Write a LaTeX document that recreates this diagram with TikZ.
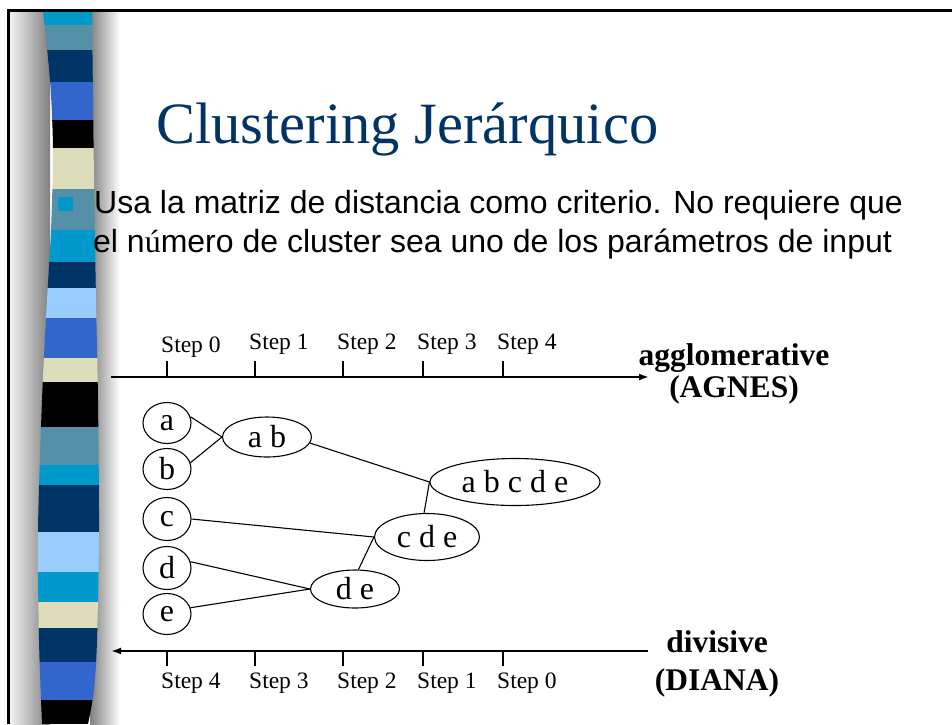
\documentclass[tikz,border=0pt]{standalone}
\usepackage{fontspec}
\setmainfont{Liberation Serif}
\setsansfont{Liberation Sans}
\usetikzlibrary{arrows.meta,shapes.geometric}

\definecolor{bandcyan}{RGB}{0,153,204}
\definecolor{bandsteel}{RGB}{85,143,168}
\definecolor{bandnavy}{RGB}{0,51,102}
\definecolor{bandroyal}{RGB}{51,102,204}
\definecolor{bandbeige}{RGB}{221,221,187}
\definecolor{bandlight}{RGB}{153,204,255}
\definecolor{titlenavy}{RGB}{0,51,102}

\tikzset{
  leaf/.style={draw, ellipse, line width=1.1pt, minimum width=48pt, minimum height=41pt,
    inner sep=0pt, font=\fontsize{32}{32}\selectfont},
  merged/.style={leaf},
  link/.style={line width=1.1pt},
  axis/.style={line width=1.8pt},
  tick/.style={line width=1.8pt},
  steplabel/.style={anchor=base west, inner sep=0pt, font=\fontsize{23.5}{23.5}\selectfont},
  sidelabel/.style={anchor=base, inner sep=0pt, font=\fontsize{31.5}{31.5}\selectfont\bfseries},
  bodytext/.style={anchor=base west, inner sep=0pt, font=\sffamily\fontsize{32}{32}\selectfont}
}

\begin{document}
\begin{tikzpicture}[x=1pt,y=-1pt]
\useasboundingbox (0,0) rectangle (952,724);
\fill[white] (0,0) rectangle (952,724);

% side bar: rounded shading behind the coloured bands
\shade[left color=black!4, right color=black!50] (9,11) rectangle (50,724);
\shade[left color=black!50, right color=white] (90,11) rectangle (120,724);

\begin{scope}
\clip plot[smooth] coordinates {(43,11) (50,80) (53,150) (51,230) (47,300) (42,400) (38,530) (39,640) (42,724)}
  -- plot[smooth] coordinates {(88,724) (94,690) (97,640) (99,530) (98,400) (96,300) (94,180) (92,11)} -- cycle;
\foreach \ya/\yb/\col in {
  11/25/bandcyan, 25/50/bandsteel, 50/82/bandnavy, 82/120/bandroyal,
  120/148/black, 148/189/bandbeige, 189/230/bandsteel, 230/262/bandcyan,
  262/288/bandnavy, 288/318/bandlight, 318/358/bandroyal, 358/382/bandbeige,
  382/427/black, 427/465/bandsteel, 465/485/bandcyan, 485/532/bandnavy,
  532/572/bandlight, 572/602/bandcyan, 602/628/bandbeige, 628/662/bandnavy,
  662/700/bandroyal, 700/724/black}
  \fill[\col] (30,\ya) rectangle (110,\yb);
\end{scope}

% frame
\draw[line width=2.6pt] (8.5,724) -- (8.5,10.5) -- (952,10.5);

% title
\node[anchor=base west, inner sep=0pt, text=titlenavy, font=\fontsize{58.5}{58.5}\selectfont]
  (title) at (156,143) {Clustering Jerárquico};

% bullet and body text
\fill[bandcyan] (58,197) rectangle (73,211);
\node[bodytext] (line1) at (94,213) {Usa la matriz de distancia como criterio. No requiere que};
\node[bodytext] (line2) at (93,252) {el n{\rmfamily ú}mero de cluster sea uno de los parámetros de input};

% agglomerative axis
\coordinate (aggstart) at (111,377);
\coordinate (aggend) at (649,377);
\draw[axis, -{Latex[length=10pt,width=7pt]}] (aggstart) -- (aggend);
\foreach \x/\lab/\yb in {167/0/352, 255/1/349, 343/2/349, 423/3/349, 503/4/349} {
  \draw[tick] (\x,361) -- (\x,377);
  \node[steplabel] (top\lab) at (\x-6,\yb) {Step \lab};
}
\node[sidelabel] (agg1) at (734,365) {agglomerative};
\node[sidelabel] (agg2) at (734,397) {(AGNES)};

% divisive axis
\coordinate (divstart) at (648,651);
\coordinate (divend) at (111,651);
\draw[axis, -{Latex[length=10pt,width=7pt]}] (divstart) -- (divend);
\foreach \x/\lab in {167/4, 255/3, 343/2, 423/1, 503/0} {
  \draw[tick] (\x,651) -- (\x,666);
  \node[steplabel] (bot\lab) at (\x-6,688) {Step \lab};
}
\node[sidelabel] (div1) at (717,652) {divisive};
\node[sidelabel] (div2) at (717,690) {(DIANA)};

% objects and clusters
\node[leaf] (a) at (167,423) {a};
\node[leaf] (b) at (167,469) {b};
\node[leaf, minimum height=43pt] (c) at (167,519) {c};
\node[leaf, minimum height=43pt] (d) at (167,568) {d};
\node[leaf] (e) at (167,614) {e};
\node[merged, minimum width=89pt, minimum height=40pt] (ab) at (267,437) {a b};
\node[merged, minimum width=170pt, minimum height=47pt] (abcde) at (515,482) {a b c d e};
\node[merged, minimum width=105pt, minimum height=47pt] (cde) at (427,537) {c d e};
\node[merged, minimum width=89pt, minimum height=38pt] (de) at (355,589) {d e};

% merge links
\draw[link] (a.15) -- (ab.west);
\draw[link] (b.15) -- (ab.west);
\draw[link] (ab.-8) -- (abcde.west);
\draw[link] (c.east) -- (cde.west);
\draw[link] (d.15) -- (de.west);
\draw[link] (e.15) -- (de.west);
\draw[link] (de.80) -- (cde.west);
\draw[link] (cde.97) -- (abcde.west);
\end{tikzpicture}
\end{document}
